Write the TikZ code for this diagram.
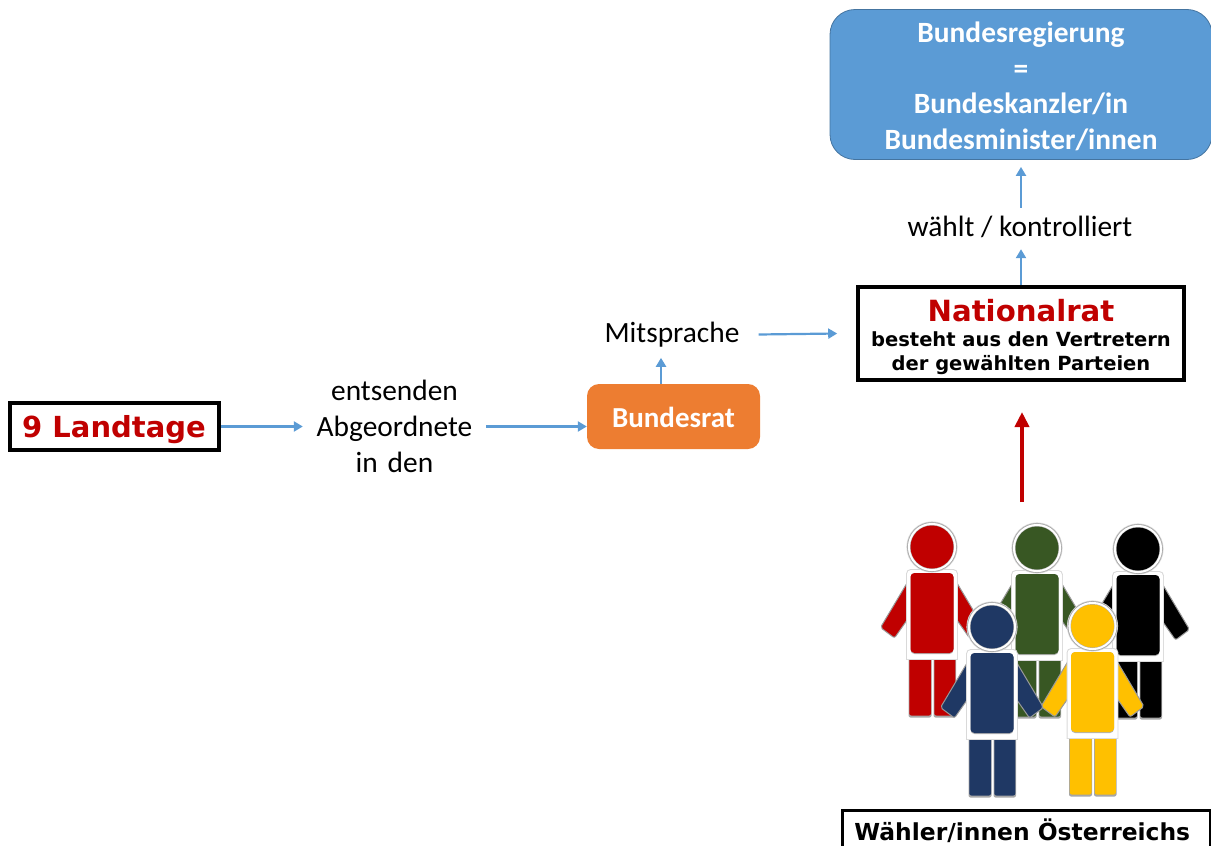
\documentclass[tikz,border=0pt]{standalone}
\usepackage{fontspec}
\setmainfont{Carlito}
\newfontfamily\vfont{DejaVu Sans}
\usetikzlibrary{arrows.meta,calc}
\definecolor{arrowblue}{HTML}{5B9BD5}
\definecolor{boxblue}{HTML}{5B9BD5}
\definecolor{boxorange}{HTML}{ED7D31}
\definecolor{darkred}{HTML}{C00000}
\definecolor{pgreen}{HTML}{385723}
\definecolor{pblue}{HTML}{1F3864}
\definecolor{pyellow}{HTML}{FFC000}
\tikzset{
  flow/.style={draw=arrowblue,line width=2.2pt,-{Triangle[length=9pt,width=10pt]}},
  vote/.style={draw=darkred,line width=4pt,-{Triangle[length=15pt,width=14pt]}},
  framed/.style={draw=black,line width=3.6pt,fill=white,inner sep=0pt,align=center},
  label/.style={inner sep=0pt,align=center,text=black,font=\fontsize{29.4}{36}\selectfont},
  rbox/.style={rounded corners=25pt,inner sep=0pt,align=center,text=white,font=\bfseries\fontsize{29.4}{35.5}\selectfont},
  limb/.style={line width=1pt,draw=black!40,rounded corners=2pt},
}
\newcommand{\personfig}[3]{%
  \begin{scope}[shift={(#1,#2)}]
    \fill[black!35,rounded corners=2pt] (-23.5,111) rectangle (-0.5,170.5);
    \fill[black!35,rounded corners=2pt] (1.5,111) rectangle (24,170.5);
    \fill[#3,rounded corners=2pt] (-22.7,108) rectangle (-1,168.5);
    \fill[#3,rounded corners=2pt] (2.3,108) rectangle (23.3,168.5);
    \filldraw[limb,fill=#3] (-22,31) -- (-51.5,80.5) -- (-37.5,91) -- (-20,66) -- cycle;
    \filldraw[limb,fill=#3] (22,31) -- (51.5,80.5) -- (37.5,91) -- (20,66) -- cycle;
    \fill[black!15] (-25.8,112.8) [rounded corners=4pt] -- (-25.8,22.2) -- (25.8,22.2) [sharp corners] -- (25.8,112.8) -- cycle;
    \fill[white] (-25,112) [rounded corners=4pt] -- (-25,23) -- (25,23) [sharp corners] -- (25,112) -- cycle;
    \fill[black!30,rounded corners=4pt] (-21.5,26) rectangle (21.5,107);
    \fill[#3,rounded corners=4pt] (-21.5,26) rectangle (21.5,106);
    \fill[black!15] (0,0) circle (25.6);
    \fill[black!35] (0,0) circle (24.9);
    \fill[white] (0,0) circle (24.1);
    \fill[black!30] (0,0) circle (22);
    \fill[#3] (0,0) circle (21.5);
  \end{scope}%
}
\begin{document}
\begin{tikzpicture}[x=1pt,y=-1pt]
\useasboundingbox (0,0) rectangle (1211,846);
\personfig{932}{547}{darkred}
\personfig{1037}{548}{pgreen}
\personfig{1138}{549}{black}
\personfig{992}{627}{pblue}
\personfig{1092.5}{626}{pyellow}
\node[rbox,fill=boxblue,draw=boxblue!75!black,line width=0.8pt,minimum width=382pt,minimum height=150pt] (gov) at (1021,84.5)
  {\rule{0pt}{24pt}Bundesregierung\\=\\Bundeskanzler/in\\Bundesminister/innen};
\node[framed,minimum width=326pt,minimum height=93pt,text=black,font=\vfont\bfseries\fontsize{19.5}{24}\selectfont] (nr) at (1021,333.5)
  {\rule{0pt}{30pt}{\fontsize{29.2}{32}\selectfont\textcolor{darkred}{Nationalrat}}\\[1pt]
   besteht aus den Vertretern\\der gewählten Parteien};
\node[framed,minimum width=209pt,minimum height=47pt,font=\vfont\bfseries\fontsize{29}{32}\selectfont] (land) at (114.5,426.5)
  {\rule{0pt}{28pt}\textcolor{darkred}{9 Landtage}\hspace*{1pt}};
\node[rbox,fill=boxorange,rounded corners=12pt,minimum width=173pt,minimum height=65pt,font=\bfseries\fontsize{29}{32}\selectfont] (brat) at (673.5,416.5) {\rule{0pt}{23pt}Bundesrat};
\node[framed,minimum width=368pt,minimum height=40pt,anchor=north west,font=\vfont\bfseries\fontsize{23.4}{26}\selectfont] (volk) at (840.5,808.5)
  {Wähler/innen Österreichs\hspace*{8pt}};
\node[label,text width=183pt] (send) at (394.5,426.5) {entsenden\\Abgeordnete\\in den};
\node[label,minimum width=173pt,minimum height=36pt] (mit) at (672,334.5) {Mitsprache};
\node[label,minimum height=37pt] (kontr) at (1020,226.5) {wählt / kontrolliert};
\coordinate (brattop) at ($(brat.north)+(-12.5,0)$);
\coordinate (redfoot) at (1022,502);
\coordinate (redhead) at (1022,412);
\draw[flow] (land.east) -- (send.west);
\draw[flow] (send.east) -- (send.east -| brat.west);
\draw[flow] (brattop) -- ($(brattop)+(0,-26)$);
\draw[flow] (mit.east) -- ($(nr.west)+(-19,0)$);
\draw[flow] (nr.north) -- ($(nr.north)+(0,-36)$);
\draw[flow] ($(kontr.north)+(1,0)$) -- ($(gov.south)+(0,7)$);
\draw[vote] (redfoot) -- (redhead);
\end{tikzpicture}
\end{document}
